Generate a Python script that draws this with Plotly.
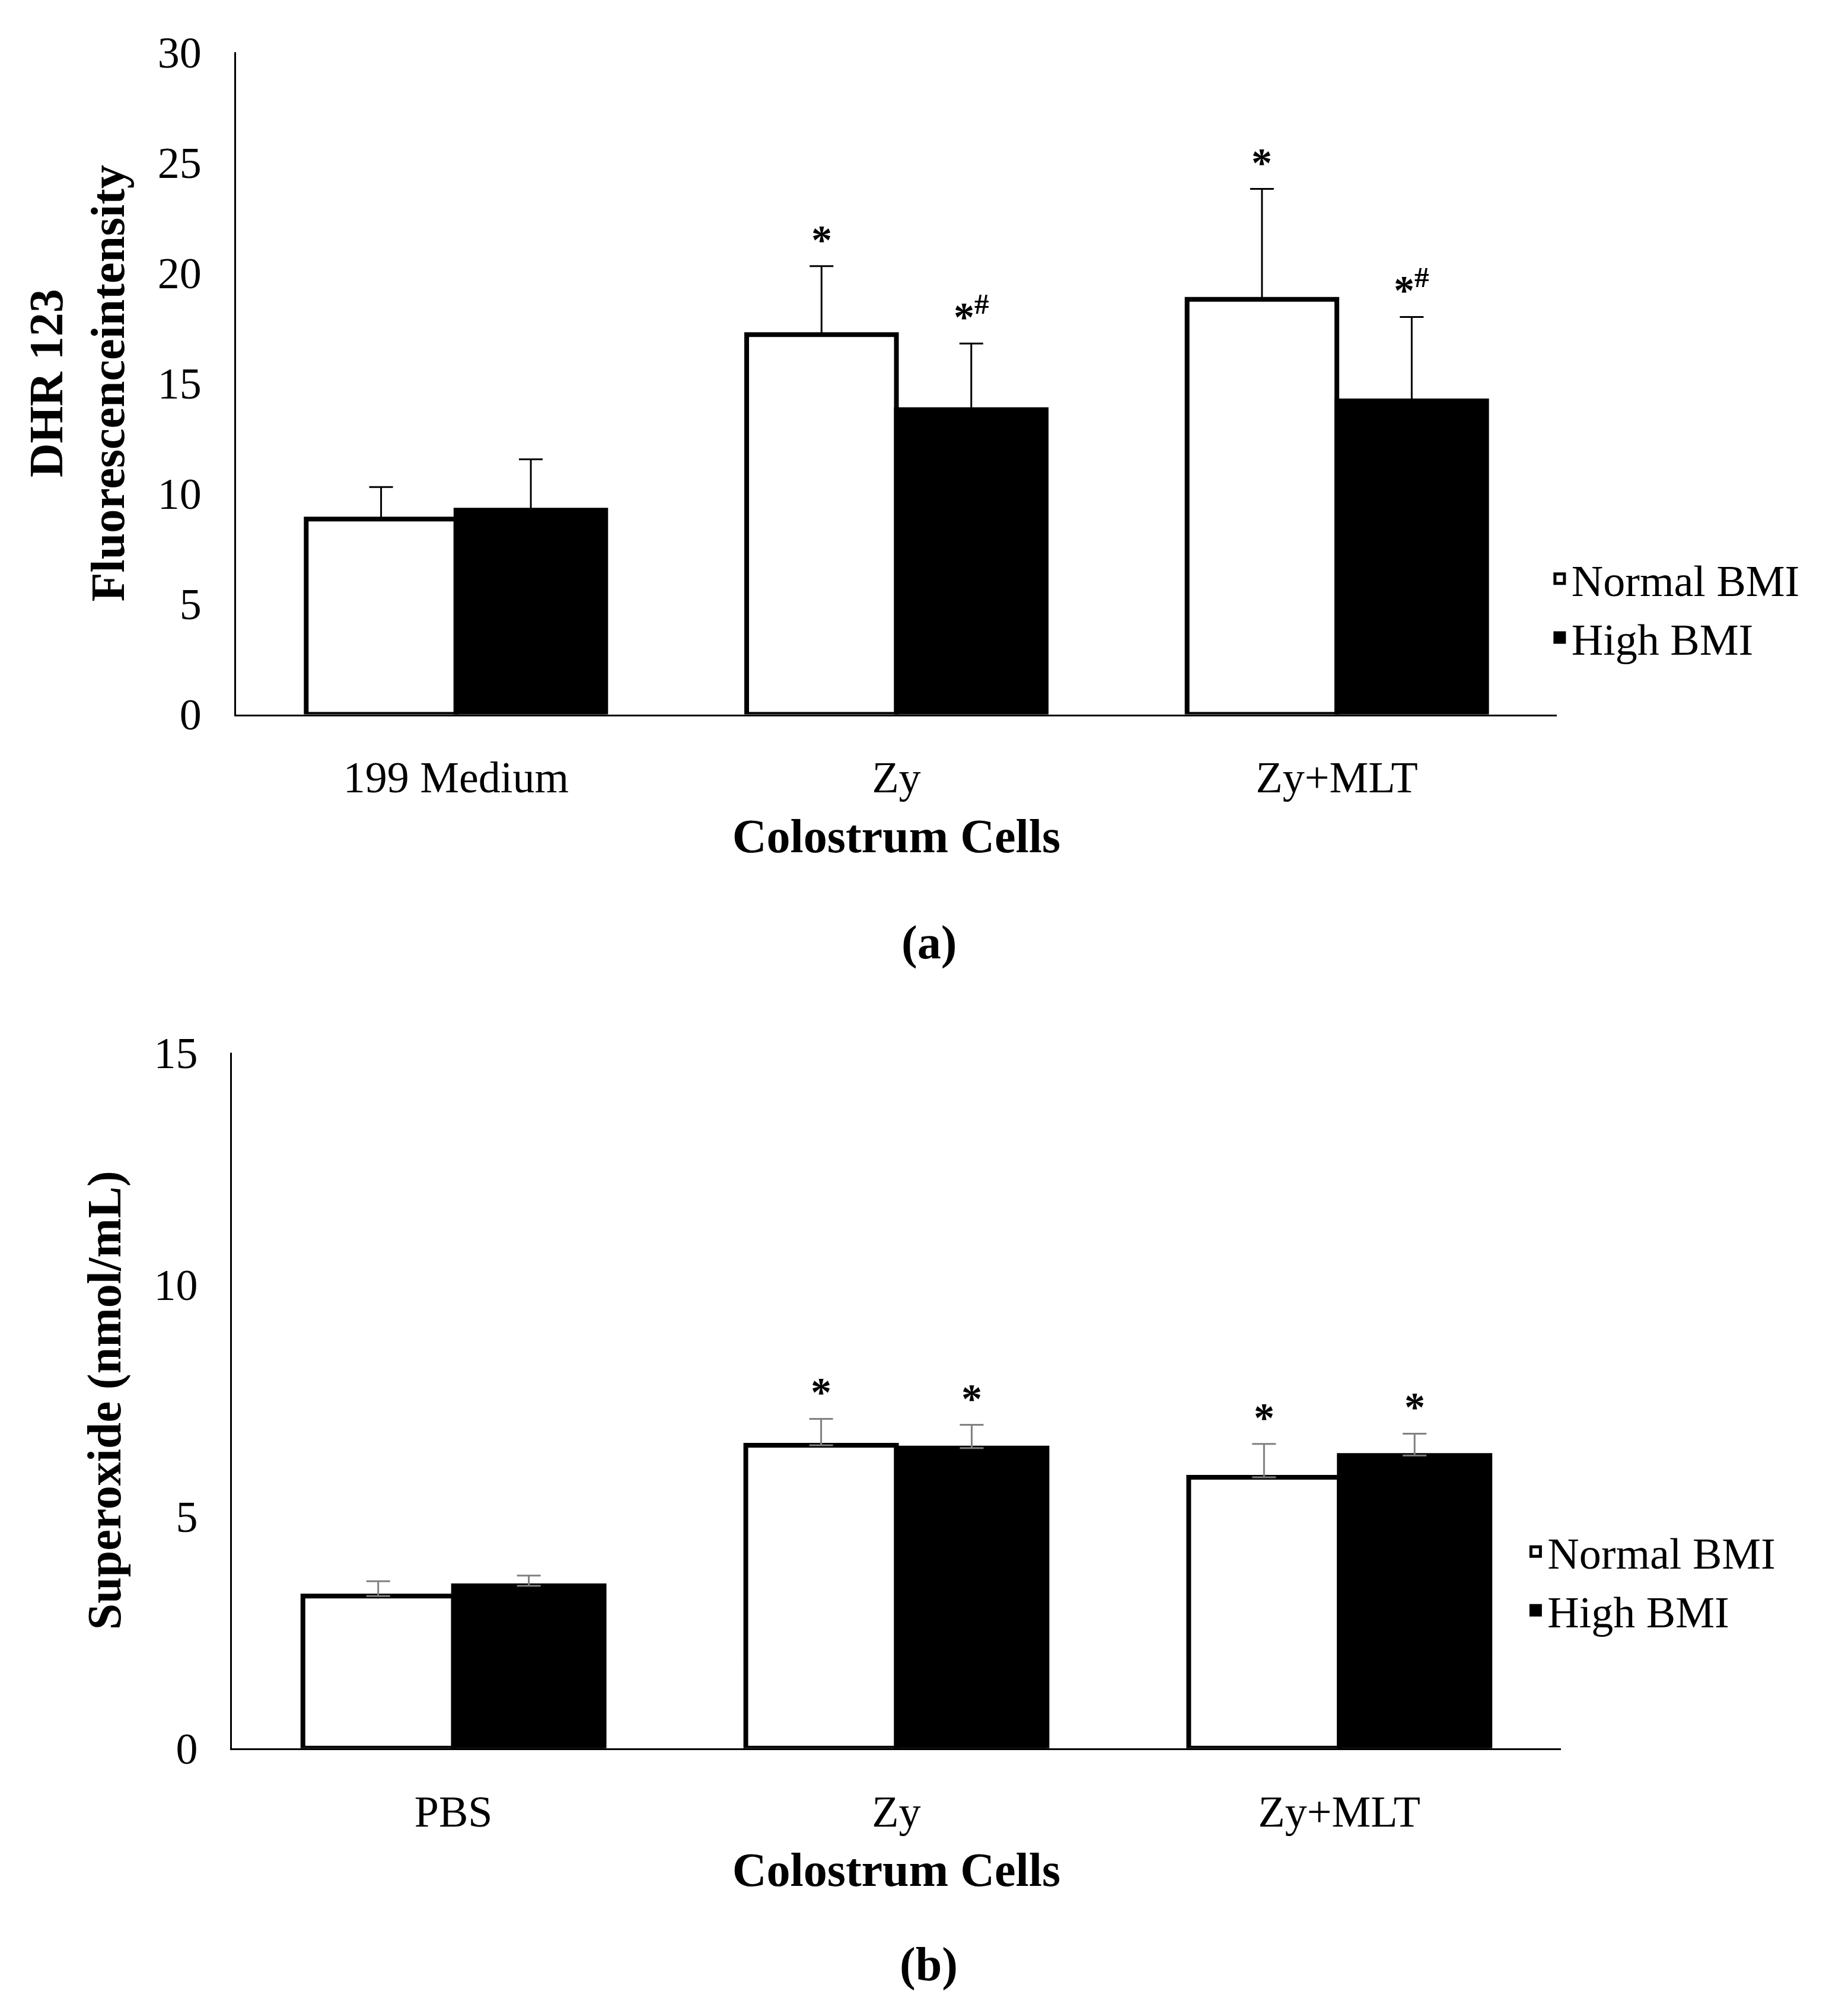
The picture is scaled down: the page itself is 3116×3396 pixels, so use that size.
import plotly.graph_objects as go
from plotly.subplots import make_subplots

# panel (a)
cats_a = ['199 Medium', 'Zy', 'Zy+MLT']
normal_a = [8.85, 17.2, 18.8]
normal_a_err = [1.45, 3.1, 5.0]
high_a = [9.25, 13.8, 14.2]
high_a_err = [2.3, 3.0, 3.8]
marks_a_normal = ['', '*', '*']
marks_a_high = ['', '*<sup>#</sup>', '*<sup>#</sup>']

# panel (b)
cats_b = ['PBS', 'Zy', 'Zy+MLT']
normal_b = [3.28, 6.53, 5.84]
normal_b_err = [0.32, 0.57, 0.72]
high_b = [3.5, 6.47, 6.31]
high_b_err = [0.22, 0.5, 0.47]
marks_b_normal = ['', '*', '*']
marks_b_high = ['', '*', '*']

FONT = 'Liberation Serif'
TICK = 74
TITLE = 80

fig = make_subplots(rows=2, cols=1)


def add_panel(row, cats, nv, ne, hv, he, errcol, legend, mn, mh):
    zeros = [0] * len(cats)
    for name, vals, errs, fill, grp in (('Normal BMI', nv, ne, 'white', 'n'),
                                       ('High BMI', hv, he, 'black', 'h')):
        fig.add_trace(go.Bar(
            x=cats, y=vals, name=name, showlegend=False,
            marker=dict(color=fill, line=dict(color='black', width=8)),
            error_y=dict(type='data', array=errs, arrayminus=zeros, symmetric=False,
                         color=errcol, thickness=3, width=20),
            offsetgroup=grp), row=row, col=1)
        # legend swatch
        fig.add_trace(go.Scatter(
            x=[None], y=[None], mode='markers', name=name, legend=legend,
            marker=dict(symbol='square', size=38, color=fill,
                        line=dict(color='black', width=6))), row=row, col=1)
    xref = 'x' if row == 1 else 'x2'
    yref = 'y' if row == 1 else 'y2'
    for i, c in enumerate(cats):
        for vals, errs, marks, shift in ((nv, ne, mn, -0.17), (hv, he, mh, 0.17)):
            if marks[i]:
                fig.add_annotation(x=i + shift, y=vals[i] + errs[i], xref=xref, yref=yref,
                                   text='<b>' + marks[i] + '</b>', showarrow=False,
                                   yanchor='bottom', yshift=4,
                                   font=dict(size=70, family=FONT, color='black'))


add_panel(1, cats_a, normal_a, normal_a_err, high_a, high_a_err, 'black', 'legend',
          marks_a_normal, marks_a_high)
add_panel(2, cats_b, normal_b, normal_b_err, high_b, high_b_err, '#808080', 'legend2',
          marks_b_normal, marks_b_high)

axis_common = dict(showline=True, linecolor='black', linewidth=3, showgrid=False,
                   ticks='', tickfont=dict(size=TICK, family=FONT, color='black'))
fig.update_xaxes(**axis_common)
fig.update_yaxes(**axis_common)

fig.update_layout(
    width=3116, height=3396, plot_bgcolor='white', paper_bgcolor='white',
    barmode='group', bargap=0.32, bargroupgap=0,
    font=dict(family=FONT, color='black'),
    margin=dict(l=0, r=0, t=0, b=0),
    xaxis=dict(domain=[0.125, 0.84], ticklabelstandoff=40,
               title=dict(text='<b>Colostrum Cells</b>', font=dict(size=TITLE), standoff=30)),
    yaxis=dict(domain=[0.651, 0.988], range=[0, 30], dtick=5, ticklabelstandoff=40,
               title=dict(text='<b>DHR 123<br>Fluorescenceintensity</b>', font=dict(size=TITLE), standoff=30)),
    xaxis2=dict(domain=[0.123, 0.842], anchor='y2', ticklabelstandoff=40,
                title=dict(text='<b>Colostrum Cells</b>', font=dict(size=TITLE), standoff=30)),
    yaxis2=dict(domain=[0.125, 0.479], range=[0, 15], dtick=5, ticklabelstandoff=40,
                title=dict(text='<b>Superoxide (nmol/mL)</b>', font=dict(size=TITLE), standoff=30)),
    legend=dict(x=0.835, y=0.705, xanchor='left', yanchor='middle', bgcolor='rgba(0,0,0,0)',
                font=dict(size=TICK, family=FONT), itemwidth=30),
    legend2=dict(x=0.822, y=0.21, xanchor='left', yanchor='middle', bgcolor='rgba(0,0,0,0)',
                 font=dict(size=TICK, family=FONT), itemwidth=30),
)
fig.add_annotation(text='<b>(a)</b>', x=0.5, y=0.535, xref='paper', yref='paper',
                   showarrow=False, font=dict(size=TITLE, family=FONT))
fig.add_annotation(text='<b>(b)</b>', x=0.5, y=0.001, xref='paper', yref='paper',
                   showarrow=False, font=dict(size=TITLE, family=FONT))

fig.write_html('out.html')
